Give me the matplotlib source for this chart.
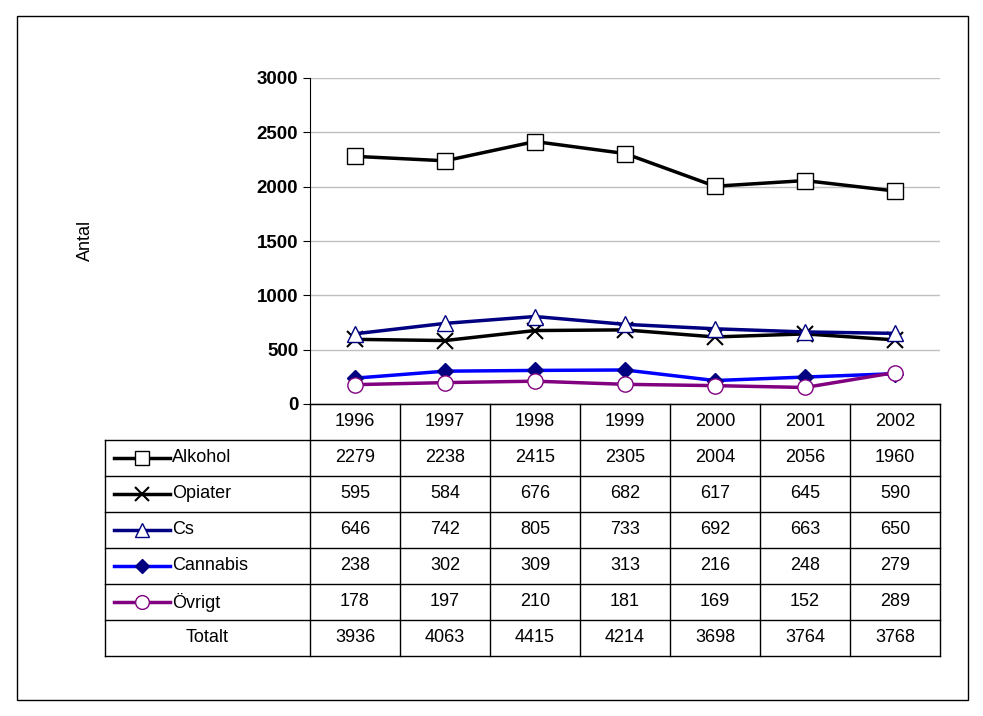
import matplotlib
matplotlib.use("Agg")
import matplotlib.pyplot as plt
from matplotlib.patches import Rectangle

plt.rcParams['font.family'] = ['Liberation Sans', 'DejaVu Sans']

years = ["1996", "1997", "1998", "1999", "2000", "2001", "2002"]
names = ["Alkohol", "Opiater", "Cs", "Cannabis", "Övrigt"]
alkohol = [2279, 2238, 2415, 2305, 2004, 2056, 1960]
opiater = [595, 584, 676, 682, 617, 645, 590]
cs = [646, 742, 805, 733, 692, 663, 650]
cannabis = [238, 302, 309, 313, 216, 248, 279]
ovrigt = [178, 197, 210, 181, 169, 152, 289]
totalt = [3936, 4063, 4415, 4214, 3698, 3764, 3768]
yticks = [0, 500, 1000, 1500, 2000, 2500, 3000]

series = [alkohol, opiater, cs, cannabis, ovrigt]
styles = [
    dict(color='black', marker='s', mfc='white', mec='black', ms=11),
    dict(color='black', marker='x', mfc='none', mec='black', ms=11, mew=1.5),
    dict(color='#000080', marker='^', mfc='white', mec='#000080', ms=11),
    dict(color='#0000FF', marker='D', mfc='#000080', mec='#000080', ms=8),
    dict(color='#800080', marker='o', mfc='white', mec='#800080', ms=11),
]

W, H = 983, 716
fig = plt.figure(figsize=(W/100, H/100), dpi=100)
fig.patches.append(Rectangle((17/W, 16/H), (968-17)/W, (700-16)/H, transform=fig.transFigure,
                             fill=False, ec='black', lw=1))

L, R, T, B = 310, 940, 78, 404
ax = fig.add_axes([L/W, 1-B/H, (R-L)/W, (B-T)/H])
xs = [i + 0.5 for i in range(len(years))]
for s, st in zip(series, styles):
    ax.plot(xs, s, lw=2.5, **st, zorder=3)
ax.set_xlim(0, 7)
ax.set_ylim(0, 3000)
ax.set_yticks(yticks)
ax.set_yticklabels([str(v) for v in yticks], fontweight='bold', fontsize=13.5)
ax.set_xticks([])
ax.yaxis.grid(True, color='#C0C0C0', lw=1)
ax.set_axisbelow(True)
for sp in ['top', 'right']:
    ax.spines[sp].set_visible(False)
ax.tick_params(axis='y', length=5, direction='out')
fig.text(85/W, 1-240/H, "Antal", rotation=90, ha='center', va='center', fontsize=13)

tx0, tx1, ty0, ty1 = 105, 940, 404, 656
tax = fig.add_axes([tx0/W, 1-ty1/H, (tx1-tx0)/W, (ty1-ty0)/H])
tax.set_xlim(tx0, tx1)
tax.set_ylim(ty1, ty0)
tax.axis('off')
rh = (ty1-ty0)/7
cw = (R-L)/7
kw = dict(color='black', lw=1, clip_on=False)
for i in range(8):
    x = L + i*cw
    tax.plot([x, x], [ty0, ty1], **kw)
tax.plot([tx0, tx0], [ty0+rh, ty1], **kw)
tax.plot([L, R], [ty0, ty0], **kw)
for r in range(1, 8):
    y = ty0 + r*rh
    tax.plot([tx0, R], [y, y], **kw)
fs = 13
for i, yr in enumerate(years):
    tax.text(L + (i+0.5)*cw, ty0 + rh/2, yr, ha='center', va='center', fontsize=fs)
rows = series + [totalt]
for r, vals in enumerate(rows):
    yc = ty0 + (r+1.5)*rh
    for i, v in enumerate(vals):
        tax.text(L + (i+0.5)*cw, yc, str(v), ha='center', va='center', fontsize=fs)
    if r < 5:
        st = dict(styles[r])
        ms = st.pop('ms')
        tax.plot([114, 170], [yc, yc], lw=2.5, color=st['color'], clip_on=False)
        tax.plot([142], [yc], ls='none', ms=ms*0.9, clip_on=False,
                 **{k: v for k, v in st.items() if k != 'color'})
        tax.text(172, yc, names[r], ha='left', va='center', fontsize=fs)
    else:
        tax.text(207, yc, "Totalt", ha='center', va='center', fontsize=fs)

fig.savefig("out.png", dpi=100)
